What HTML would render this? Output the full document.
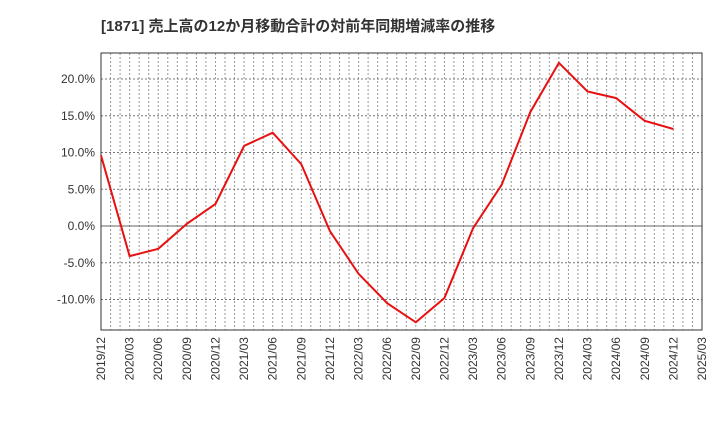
<!DOCTYPE html>
<html><head><meta charset="utf-8"><style>
body{margin:0;background:#fff;font-family:"Liberation Sans","Noto Sans CJK JP",sans-serif;}
</style></head><body>
<svg id="c" width="720" height="440" xmlns="http://www.w3.org/2000/svg">
<text x="101" y="31" font-size="15" font-weight="bold" fill="#333" font-family="Liberation Sans,Noto Sans CJK JP,sans-serif">[1871]  売上高の12か月移動合計の対前年同期増減率の推移</text>
</svg>
<script>
const categories=["2019/12","2020/03","2020/06","2020/09","2020/12","2021/03","2021/06","2021/09","2021/12","2022/03","2022/06","2022/09","2022/12","2023/03","2023/06","2023/09","2023/12","2024/03","2024/06","2024/09","2024/12","2025/03"];
const values=[9.6,-4.1,-3.1,0.3,3.0,10.9,12.7,8.4,-0.7,-6.5,-10.5,-13.1,-9.8,-0.3,5.6,15.5,22.2,18.3,17.4,14.3,13.2];
const yTicks=[-10,-5,0,5,10,15,20];
const L=101,R=702,T=53,B=330;
const x=i=>L+i*(R-L)/(categories.length-1);
const y=v=>226-v*7.35;
const svg=document.getElementById('c');const NS='http://www.w3.org/2000/svg';
function mk(t,a){const e=document.createElementNS(NS,t);for(const k in a)e.setAttribute(k,a[k]);svg.appendChild(e);return e;}
const nM=(categories.length-1)*3;
for(let m=1;m<nM;m++){const xx=L+m*(R-L)/nM;const g=mk('line',{x1:xx,x2:xx,y1:T,y2:B,stroke:'#999','stroke-dasharray':'2,2','stroke-width':1});

}
yTicks.forEach(v=>{const g=mk('line',{x1:L,x2:R,y1:y(v),y2:y(v),stroke:v===0?'#666':'#777','stroke-dasharray':v===0?'':'2,2','stroke-width':1});


const t=mk('text',{x:L-6,y:y(v)+4,'text-anchor':'end','font-size':12,fill:'#333'});t.textContent=v.toFixed(1)+'%';

});
const fr=mk('rect',{x:L,y:T,width:R-L,height:B-T,fill:'none',stroke:'#333','stroke-width':1});


categories.forEach((c,i)=>{const t=mk('text',{x:0,y:0,'text-anchor':'end','font-size':12,fill:'#333',transform:`translate(${x(i)+4},${B+7}) rotate(-90)`});t.textContent=c;

});
const p=mk('polyline',{points:values.map((v,i)=>x(i)+','+y(v)).join(' '),fill:'none',stroke:'#e81010','stroke-width':2});


</script>
</body></html>
